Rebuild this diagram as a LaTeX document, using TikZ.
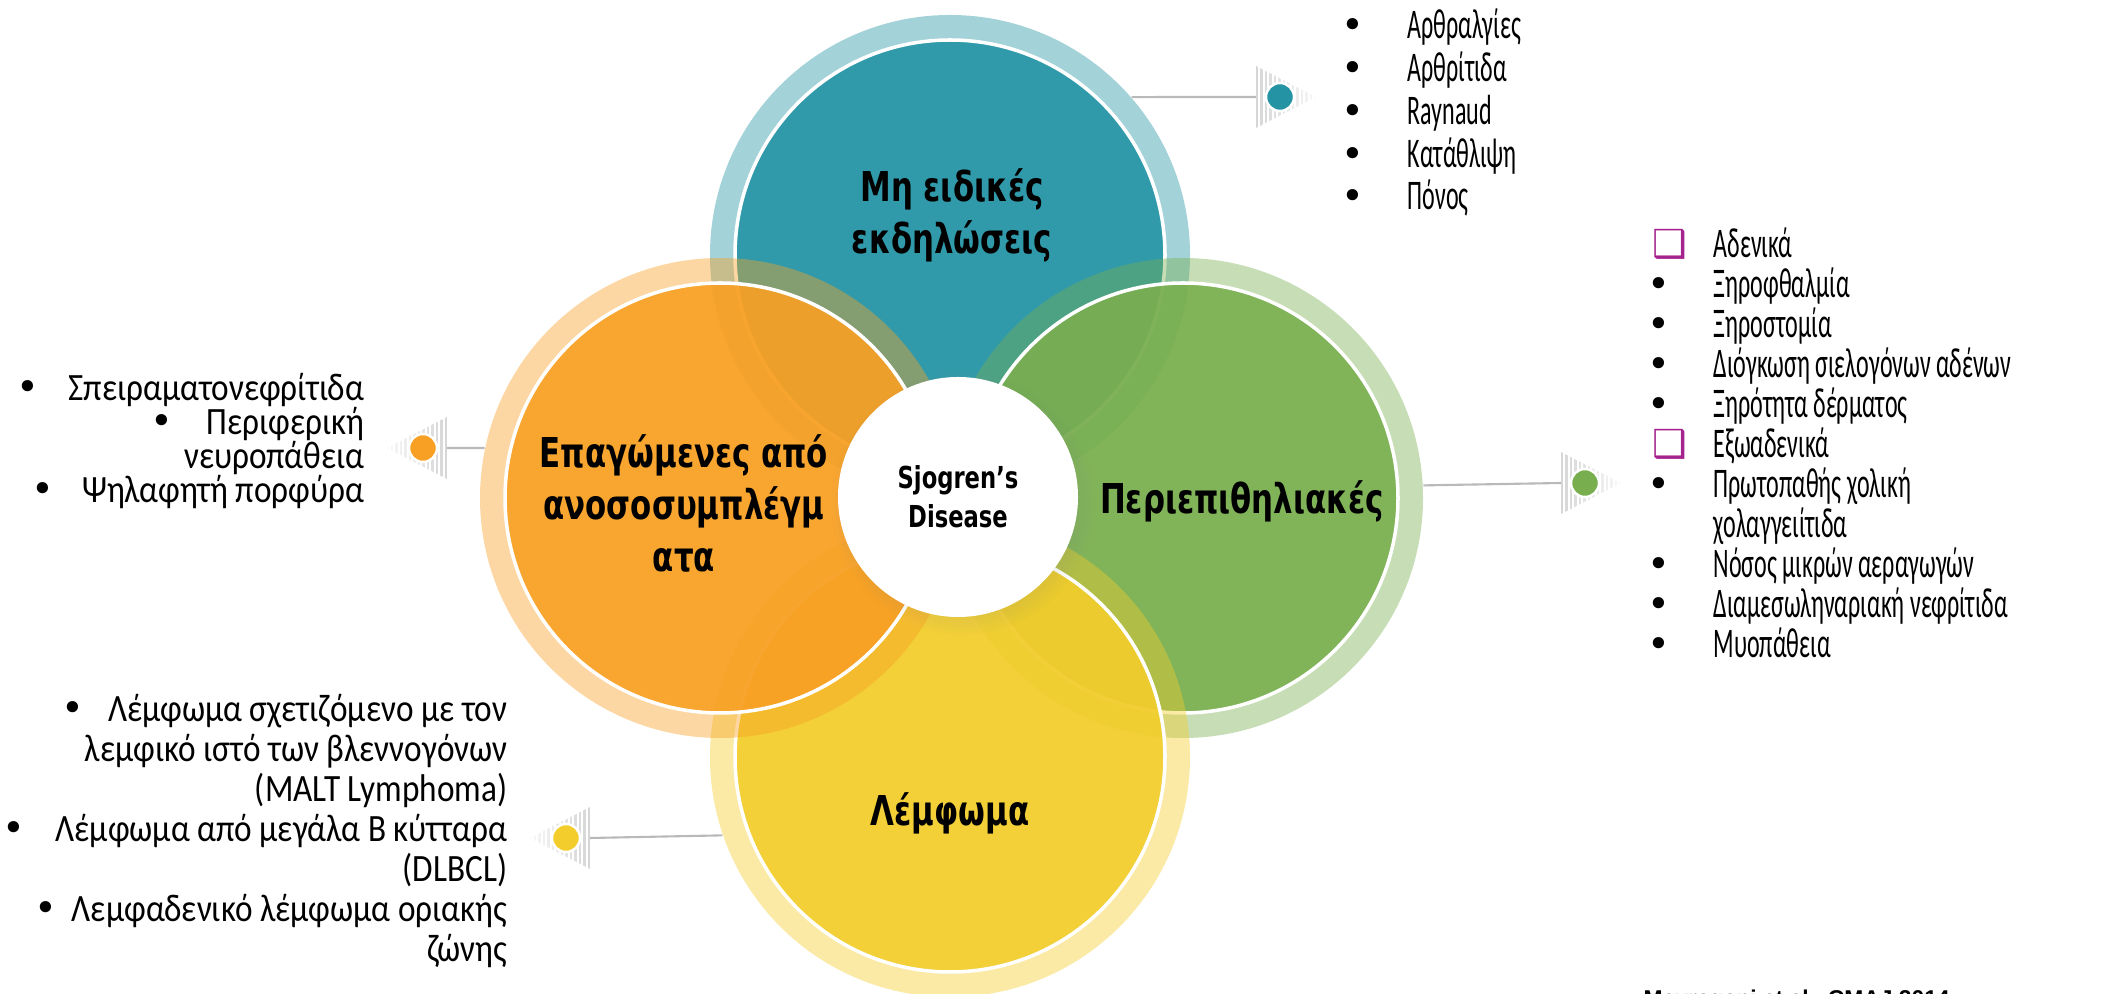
\documentclass[tikz,border=0pt]{standalone}
\usepackage{fontspec}
\setmainfont{Carlito}
\newfontfamily\listfont[FakeStretch=0.57]{Carlito}
\newfontfamily\sidefont[FakeStretch=0.86]{Carlito}
\newfontfamily\labelfont[FakeStretch=0.75]{DejaVu Sans}
\newfontfamily\symfont{DejaVu Sans}
\newfontfamily\citefont{Liberation Sans}
\usepackage{tikz}
\usetikzlibrary{calc}
\usetikzlibrary{shadows}
\definecolor{tealc}{HTML}{2494A5}
\definecolor{greenc}{HTML}{79AE4F}
\definecolor{yellowc}{HTML}{F2CD2B}
\definecolor{orangec}{HTML}{F8A023}
\definecolor{boxc}{HTML}{A4238F}
\definecolor{linkc}{HTML}{B9B9B9}
\tikzstyle{ring} = [circle, minimum size=4.8cm, inner sep=0pt, fill opacity=0.42]
\tikzstyle{disc} = [circle, minimum size=4.3cm, inner sep=0pt, draw=white, line width=1pt, fill opacity=0.9]
\tikzstyle{hub} = [circle, fill=white, minimum size=2.4cm, inner sep=0pt, align=center, circular drop shadow={opacity=0.12, shadow xshift=0.4mm, shadow yshift=-0.6mm}, font=\labelfont\bfseries\fontsize{8.6}{11}\selectfont]
\tikzstyle{caption} = [align=center, inner sep=0pt, font=\labelfont\bfseries\fontsize{11.7}{14.8}\selectfont]
\tikzstyle{item} = [anchor=base west, inner sep=0pt, font=\listfont\fontsize{12}{14}\selectfont]
\tikzstyle{itemr} = [anchor=base east, inner sep=0pt, font=\sidefont\fontsize{11}{12}\selectfont]
\tikzstyle{bullet} = [anchor=base, inner sep=0pt, font=\symfont\fontsize{11}{13}\selectfont]
\tikzstyle{dot} = [circle, draw=white, line width=0.7pt, minimum size=0.28cm, inner sep=0pt]
\tikzstyle{link} = [draw=linkc, line width=0.6pt]
\tikzstyle{cite} = [anchor=north west, inner sep=0pt, font=\citefont\bfseries\fontsize{6.5}{8}\selectfont]
\newcommand{\chk}{{\color{boxc}❑}}
\newcommand{\stripes}[2]{%
  \begin{scope}[shift={(#1)}, xscale=#2]
    \clip (-0.24,0.31) -- (-0.24,-0.31) -- (0.36,0) -- cycle;
    \foreach \k in {0,...,13} {
      \pgfmathtruncatemacro{\shade}{32-2*\k}
      \draw [gray!\shade, line width=0.022cm] (-0.23+0.045*\k,-0.32) -- ++(0,0.64);
    }
  \end{scope}}

\begin{document}
\begin{tikzpicture}
    \useasboundingbox (0,0) rectangle (21.24,-9.94);
    % petals, back to front
    \node [ring, fill=tealc] (tealring) at (9.50,-2.55) {};
    \node [disc, fill=tealc] (teal) at (tealring) {};
    \node [ring, fill=greenc] (greenring) at (11.83,-4.98) {};
    \node [disc, fill=greenc] (green) at (greenring) {};
    \node [ring, fill=yellowc] (yellowring) at (9.50,-7.57) {};
    \node [disc, fill=yellowc] (yellow) at (yellowring) {};
    \node [ring, fill=orangec] (orangering) at (7.20,-4.98) {};
    \node [disc, fill=orangec] (orange) at (orangering) {};
    \node [hub] (hub) at (9.58,-4.97) {Sjogren’s\\Disease};

    \node [caption] (tealtext) at (9.52,-2.15) {Μη ειδικές\\εκδηλώσεις};
    \node [caption] (orangetext) at (6.84,-5.03) {Επαγώμενες από\\ανοσοσυμπλέγμ\\ατα};
    \node [caption] (greentext) at (12.42,-5.01) {Περιεπιθηλιακές};
    \node [caption] (yellowtext) at (9.50,-8.13) {Λέμφωμα};

    \coordinate (tealpin) at (12.80,-0.97);
    \coordinate (greenpin) at (15.85,-4.83);
    \coordinate (orangepin) at (4.23,-4.48);
    \coordinate (yellowpin) at (5.66,-8.38);
    \draw [link] (tealring.41.2) -- ([xshift=-2.4mm]tealpin);
    \draw [link] (greenring.3.6) -- ([xshift=-2.4mm]greenpin);
    \draw [link] (orangering.168) -- ([xshift=2.4mm]orangepin);
    \draw [link] (yellowring.199.7) -- ([xshift=2.4mm]yellowpin);
    \stripes{tealpin}{1}
    \stripes{greenpin}{1}
    \stripes{orangepin}{-1}
    \stripes{yellowpin}{-1}
    \node [dot, fill=tealc] (tealdot) at (tealpin) {};
    \node [dot, fill=greenc] (greendot) at (greenpin) {};
    \node [dot, fill=orangec] (orangedot) at (orangepin) {};
    \node [dot, fill=yellowc] (yellowdot) at (yellowpin) {};

    \foreach \t [count=\i from 0] in {Αρθραλγίες, Αρθρίτιδα, Raynaud, Κατάθλιψη, Πόνος} {
        \node [bullet] (tb\i) at (13.53,-0.39-0.427*\i) {•};
        \node [item] (ti\i) at (14.07,-0.39-0.427*\i) {\t};
    }
    \foreach \m/\x/\t [count=\i from 0] in {\chk/16.70/Αδενικά, •/16.59/Ξηροφθαλμία, •/16.59/Ξηροστομία, •/16.59/Διόγκωση σιελογόνων αδένων, •/16.59/Ξηρότητα δέρματος, \chk/16.70/Εξωαδενικά, •/16.59/Πρωτοπαθής χολική, {}/16.59/χολαγγειίτιδα, •/16.59/Νόσος μικρών αεραγωγών, •/16.59/Διαμεσωληναριακή νεφρίτιδα, •/16.59/Μυοπάθεια} {
        \node [bullet] (rb\i) at (\x,-2.58-0.40*\i) {\m};
        \node [item] (ri\i) at (17.13,-2.58-0.40*\i) {\t};
    }

    \node [itemr] (li0) at (3.65,-4.01) {Σπειραματονεφρίτιδα};
    \node [itemr] (li1) at (3.65,-4.35) {Περιφερική};
    \node [itemr] (li2) at (3.65,-4.69) {νευροπάθεια};
    \node [itemr] (li3) at (3.65,-5.03) {Ψηλαφητή πορφύρα};
    \node [bullet] (lb0) at (0.28,-4.01) {•};
    \node [bullet] (lb1) at (1.62,-4.35) {•};
    \node [bullet] (lb3) at (0.43,-5.03) {•};

    \foreach \t [count=\i from 0] in {Λέμφωμα σχετιζόμενο με τον, λεμφικό ιστό των βλεννογόνων, {(MALT Lymphoma)}, Λέμφωμα από μεγάλα B κύτταρα, {(DLBCL)}, Λεμφαδενικό λέμφωμα οριακής, ζώνης}
        \node [itemr] (bi\i) at (5.08,-7.22-0.40*\i) {\t};
    \node [bullet] (bb0) at (0.73,-7.22) {•};
    \node [bullet] (bb3) at (0.14,-8.42) {•};
    \node [bullet] (bb5) at (0.46,-9.22) {•};

    \node [cite] (source) at (16.43,-9.89) {Mavragani et al., CMAJ 2014};
\end{tikzpicture}
\end{document}
